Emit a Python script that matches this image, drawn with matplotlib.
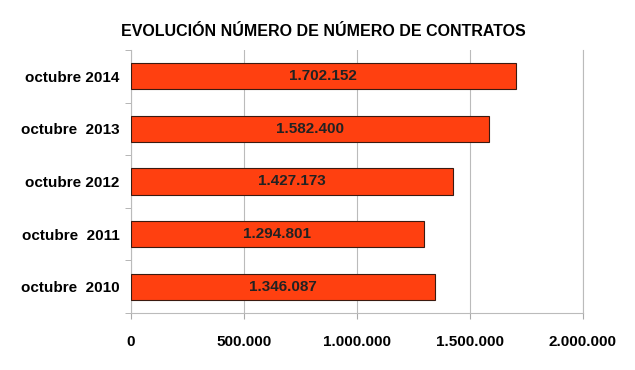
import matplotlib.pyplot as plt
from matplotlib.ticker import FuncFormatter

categories = ["octubre  2010", "octubre  2011", "octubre 2012", "octubre  2013", "octubre 2014"]
values = [1346087, 1294801, 1427173, 1582400, 1702152]
value_labels = ["1.346.087", "1.294.801", "1.427.173", "1.582.400", "1.702.152"]
xticks = [0, 500000, 1000000, 1500000, 2000000]

plt.rcParams['font.family'] = ['Liberation Sans', 'DejaVu Sans']

fig = plt.figure(figsize=(6.35, 3.70), dpi=100)
ax = fig.add_axes([0.206, 0.154, 0.712, 0.711])

pos = range(len(categories))
ax.barh(pos, values, height=0.5, color="#FF4010", edgecolor="#3a1a10", linewidth=0.8, zorder=3)
for p, v, lab in zip(pos, values, value_labels):
    ax.text(v / 2, p, lab, ha="center", va="center", fontsize=11, fontweight="bold", color="#222222", zorder=4)

ax.set_xlim(0, 2000000)
ax.set_ylim(-0.5, 4.5)
ax.set_xticks(xticks)
ax.xaxis.set_major_formatter(FuncFormatter(lambda x, _: f"{int(x):,}".replace(",", ".")))
ax.set_yticks(list(pos))
ax.set_yticklabels(categories)
ax.set_yticks([i - 0.5 for i in range(len(categories) + 1)], minor=True)
ax.tick_params(axis="y", which="major", length=0, pad=8, labelsize=11)
ax.tick_params(axis="y", which="minor", length=4, color="#aaaaaa", direction="out")
ax.tick_params(axis="x", length=4, color="#aaaaaa", pad=12, labelsize=11)
for lab in ax.get_xticklabels() + ax.get_yticklabels():
    lab.set_fontweight("bold")

ax.grid(axis="x", color="#bbbbbb", linewidth=0.8, zorder=0)
for s in ax.spines.values():
    s.set_color("#bbbbbb")
    s.set_linewidth(0.8)
ax.spines["top"].set_visible(False)

fig.suptitle("EVOLUCIÓN NÚMERO DE NÚMERO DE CONTRATOS", x=0.51, y=0.935, fontsize=11.5, fontweight="bold")

fig.savefig("out.png", dpi=100)
